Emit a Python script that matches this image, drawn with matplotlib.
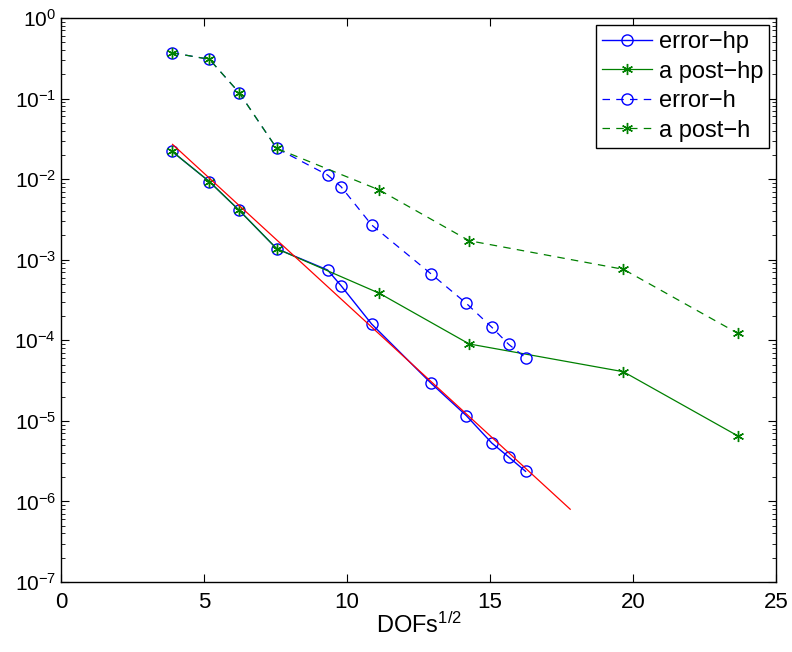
import numpy as np
import matplotlib
matplotlib.use("Agg")
import matplotlib.pyplot as plt
from matplotlib.ticker import LogLocator, FixedLocator

plt.rcParams['font.family'] = ['Liberation Sans', 'DejaVu Sans']
plt.rcParams['mathtext.default'] = 'regular'

# sqrt(DOFs) values
x_hp = [3.87, 5.19, 6.23, 7.54, 9.32, 9.79, 10.86, 12.94, 14.17, 15.06, 15.65, 16.24]
x_post = [3.87, 5.19, 6.23, 7.54, 11.13, 14.27, 19.66, 23.66]

err_hp = [0.0223, 0.0093, 0.0041, 0.00137, 7.45e-4, 4.76e-4, 1.59e-4, 2.92e-5, 1.16e-5, 5.3e-6, 3.56e-6, 2.36e-6]
post_hp = [0.0223, 0.0093, 0.0041, 0.00137, 3.83e-4, 9.0e-5, 4.07e-5, 6.5e-6]
err_h = [0.371, 0.307, 0.118, 0.0241, 0.01125, 0.00806, 0.0027, 6.65e-4, 2.87e-4, 1.45e-4, 8.9e-5, 6.08e-5]
post_h = [0.371, 0.307, 0.118, 0.0241, 0.00733, 0.00172, 7.6e-4, 1.22e-4]

# reference slope line
ref_x = [3.9, 17.8]
ref_y = [0.027, 8.0e-7]

green = (0, 0.5, 0)
ast = (6, 2, 0)

fig = plt.figure(figsize=(7.92, 6.52), dpi=100)
ax = fig.add_axes([0.077, 0.1074, 0.903, 0.865])

ax.semilogy(x_hp, err_hp, color='b', marker='o', markersize=8, mfc='none', lw=1.0, label='error\u2212hp')
ax.semilogy(x_post, post_hp, color=green, marker=ast, markersize=8, lw=0.9, label='a post\u2212hp')
ax.semilogy(x_hp, err_h, color='b', marker='o', markersize=8, mfc='none', lw=0.9,
            linestyle=(0, (6, 5)), label='error\u2212h')
ax.semilogy(x_post, post_h, color=green, marker=ast, markersize=8, lw=0.9,
            linestyle=(0, (6, 5)), label='a post\u2212h')
ax.semilogy(ref_x, ref_y, color='r', lw=0.9)

ax.set_xlim(0, 25)
ax.set_ylim(1e-7, 1e0)
ax.xaxis.set_major_locator(FixedLocator([0, 5, 10, 15, 20, 25]))
ax.yaxis.set_major_locator(LogLocator(base=10, numticks=20))
ax.yaxis.set_minor_locator(LogLocator(base=10, subs=np.arange(2, 10), numticks=20))
ax.tick_params(which='both', direction='in', top=True, right=True, labelsize=15)
ax.tick_params(axis='x', labelsize=16, pad=7)
ax.tick_params(which='major', length=6, width=0.8)
ax.tick_params(which='minor', length=3, width=0.6)
for s in ax.spines.values():
    s.set_linewidth(1.0)

ax.set_xlabel('DOFs$^{1/2}$', fontsize=17, labelpad=0)

leg = ax.legend(loc='upper right', fontsize=17, frameon=True, fancybox=False,
                edgecolor='k', framealpha=1, handlelength=2.1, borderpad=0.25,
                labelspacing=0.32, handletextpad=0.3, borderaxespad=0.3)
leg.get_frame().set_linewidth(1.0)

fig.savefig('out.png', dpi=100)
